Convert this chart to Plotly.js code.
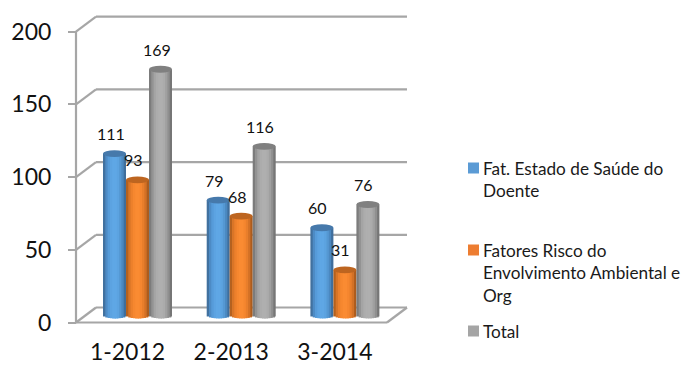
<!DOCTYPE html>
<html>
<head>
<meta charset="utf-8">
<script src="https://cdn.plot.ly/plotly-3.0.1.min.js"></script>
<style>html,body{margin:0;padding:0;background:#fff}</style>
</head>
<body>
<div id="chart" style="width:686px;height:365px"></div>
<script>
// Category labels and series values
const categories = ['1-2012', '2-2013', '3-2014'];
const saudeDoente = [111, 79, 60];
const riscoAmbiental = [93, 68, 31];
const totalGeral = [169, 116, 76];
const yTicks = [0, 50, 100, 150, 200];

// Legend entries, one string per wrapped line
const legendSaude = ['Fat. Estado de Saúde do', 'Doente'];
const legendRisco = ['Fatores Risco do', 'Envolvimento Ambiental e', 'Org'];
const legendTotal = ['Total'];

const FONT = 'Lato, "Open Sans", sans-serif';
const GRID = '#a6a6a6';

// Plot frame in page pixels; the axis scales below are set from it
const frame = {l: 70, r: 415, t: 8, b: 330};
const pxPerCat = 103.7, pxPerUnit = 1.454;
const cat0Px = 137.5, zeroPx = 322.5;
const xRange = [(frame.l - cat0Px) / pxPerCat, (frame.r - cat0Px) / pxPerCat];
const yRange = [(zeroPx - frame.b) / pxPerUnit, (zeroPx - frame.t) / pxPerUnit];

// Pseudo-3D box: the back wall is shifted by this much from the front plane
const depthX = 20 / pxPerCat, depthY = 15 / pxPerUnit;
const xFront0 = (76 - cat0Px) / pxPerCat;
const xFrontEnd = (387 - cat0Px) / pxPerCat;

// Cylinders stand half way through the box
const baseValue = depthY / 2;
const barW = 23 / pxPerCat;
const capH = 3.4 / pxPerUnit;     // half height of the elliptical ends

const series = [
  {values: saudeDoente, slot: -1, swatch: '#5b9bd5', cap: '#4679ab', lines: legendSaude, legendY: 168,
   ramp: ['#41719f', '#4d8bc5', '#569bd9', '#5ca3e1', '#5fa7e5', '#5fa7e5', '#5ca3e0', '#5598d3', '#4b88c0', '#3f6e9c']},
  {values: riscoAmbiental, slot: 0, swatch: '#ed7d31', cap: '#bd6520', lines: legendRisco, legendY: 250,
   ramp: ['#b4611f', '#d97527', '#ec802c', '#f6872f', '#fa8b32', '#fa8b32', '#f5862f', '#e87e2b', '#d37126', '#ac5c1d']},
  {values: totalGeral, slot: 1, swatch: '#a5a5a5', cap: '#808080', lines: legendTotal, legendY: 331,
   ramp: ['#7c7c7c', '#939393', '#a4a4a4', '#acacac', '#afafaf', '#afafaf', '#ababab', '#a0a0a0', '#8f8f8f', '#767676']}
];

const traces = [];
const shapes = [];
const annotations = [];

const xIdx = categories.map((_, i) => i);

series.forEach(s => {
  const n = s.ramp.length;
  // Each cylinder is a row of thin vertical strips following a lit gradient;
  // every strip runs under the next one so that no seam shows between them
  s.ramp.forEach((color, k) => {
    const t = ((k + 0.5) / n) * 2 - 1;
    const drop = capH * Math.sqrt(1 - t * t);
    const stripW = (k === n - 1 ? 1 : 1.7) * barW / n;
    traces.push({
      type: 'bar',
      x: xIdx,
      y: s.values.map(v => v + drop),
      base: s.values.map(() => baseValue - drop),
      offset: s.values.map(() => (s.slot - 0.5) * barW + (k / n) * barW),
      width: s.values.map(() => stripW),
      marker: {color: color, opacity: 1, line: {width: 0}},
      hoverinfo: 'skip',
      showlegend: false,
      cliponaxis: false
    });
  });

  s.values.forEach((v, i) => {
    const cx = i + s.slot * barW;
    const top = v + baseValue;
    // Top of the cylinder
    shapes.push({
      type: 'circle', layer: 'above', xref: 'x', yref: 'y',
      x0: cx - barW / 2, x1: cx + barW / 2, y0: top - capH, y1: top + capH,
      fillcolor: s.cap, line: {width: 0}
    });
    // Value label
    annotations.push({
      xref: 'x', yref: 'y', x: cx, y: top, text: String(v), showarrow: false,
      xshift: -4, yshift: 20, xanchor: 'center', yanchor: 'middle',
      font: {family: FONT, size: 16, color: '#111'}
    });
  });
});

// Back-wall gridlines with their diagonal returns to the front plane
const wallLine = {color: GRID, width: 2.2};
yTicks.forEach(v => {
  shapes.push({type: 'line', layer: 'below', xref: 'x', yref: 'y',
    x0: xFront0, y0: v, x1: xFront0 + depthX, y1: v + depthY, line: wallLine});
  shapes.push({type: 'line', layer: 'below', xref: 'x', yref: 'y',
    x0: xFront0 + depthX, y0: v + depthY, x1: xFrontEnd + depthX, y1: v + depthY, line: wallLine});
});
// Front vertical edge and the floor outline
shapes.push({type: 'line', layer: 'below', xref: 'x', yref: 'y',
  x0: xFront0, y0: yTicks[0], x1: xFront0, y1: yTicks[yTicks.length - 1], line: wallLine});
shapes.push({type: 'line', layer: 'below', xref: 'x', yref: 'y',
  x0: xFront0, y0: 0, x1: xFrontEnd, y1: 0, line: wallLine});
shapes.push({type: 'line', layer: 'below', xref: 'x', yref: 'y',
  x0: xFrontEnd, y0: 0, x1: xFrontEnd + depthX, y1: depthY, line: wallLine});

// Hand-placed legend, in page pixels converted to paper fractions
const W = 686, H = 365;
const paperX = px => (px - frame.l) / (frame.r - frame.l);
const paperY = px => (frame.b - px) / (frame.b - frame.t);
const lineStep = 22.6;
series.forEach(s => {
  shapes.push({
    type: 'rect', xref: 'paper', yref: 'paper', layer: 'above',
    x0: paperX(468), x1: paperX(479), y0: paperY(s.legendY + 5.5), y1: paperY(s.legendY - 5.5),
    fillcolor: s.swatch, line: {width: 0}
  });
  s.lines.forEach((line, j) => {
    annotations.push({
      xref: 'paper', yref: 'paper', x: paperX(481), y: paperY(s.legendY + j * lineStep),
      text: line, showarrow: false, xanchor: 'left', yanchor: 'middle', align: 'left',
      font: {family: FONT, size: 17.2, color: '#1a1a1a'}
    });
  });
});

const layout = {
  width: W, height: H,
  paper_bgcolor: '#fff', plot_bgcolor: 'rgba(0,0,0,0)',
  margin: {l: frame.l, r: W - frame.r, t: frame.t, b: H - frame.b, pad: 0},
  barmode: 'overlay',
  showlegend: false,
  xaxis: {
    type: 'linear', range: xRange, domain: [0, 1],
    showgrid: false, zeroline: false, showline: false,
    // Category labels sit on the front plane, half the box depth left of the cylinders
    tickmode: 'array',
    tickvals: categories.map((_, i) => i - depthX / 2),
    ticktext: categories,
    ticks: '', ticklabelstandoff: 6,
    tickfont: {family: FONT, size: 23, color: '#111'}
  },
  yaxis: {
    range: yRange, showgrid: false, zeroline: false, showline: false,
    anchor: 'free', position: (76 - frame.l) / (frame.r - frame.l),
    tickmode: 'array', tickvals: yTicks,
    ticks: 'outside', ticklen: 8, tickwidth: 2, tickcolor: GRID,
    ticklabelstandoff: 12,
    tickfont: {family: FONT, size: 23, color: '#111'}
  },
  shapes: shapes,
  annotations: annotations
};

Plotly.newPlot('chart', traces, layout, {displayModeBar: false, responsive: false});
</script>
</body>
</html>
